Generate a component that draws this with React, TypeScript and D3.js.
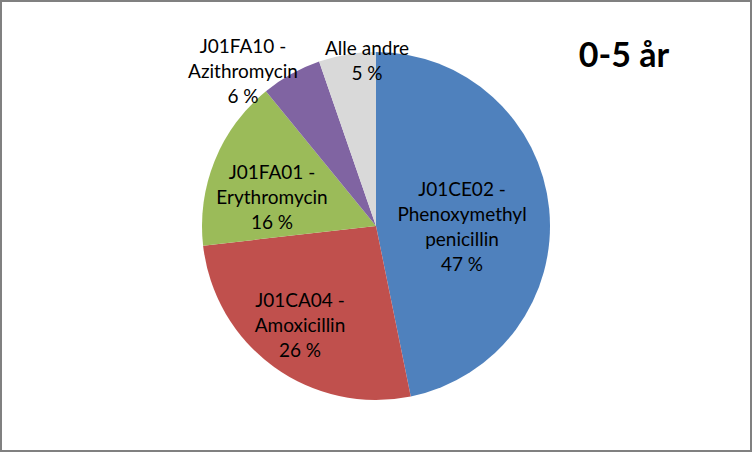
import React from "react";
import * as d3 from "d3";

const categories = [
  "J01CE02 - Phenoxymethyl penicillin",
  "J01CA04 - Amoxicillin",
  "J01FA01 - Erythromycin",
  "J01FA10 - Azithromycin",
  "Alle andre",
];
const values = [46.8, 26.4, 15.9, 5.6, 5.3];
const labelLines = [
  ["J01CE02 -", "Phenoxymethyl", "penicillin"],
  ["J01CA04 -", "Amoxicillin"],
  ["J01FA01 -", "Erythromycin"],
  ["J01FA10 -", "Azithromycin"],
  ["Alle andre"],
];
const title = "0-5 år";

const colors = ["#4F81BD", "#C0504D", "#9BBB59", "#8064A2", "#D9D9D9"];
// label centre offsets relative to pie centre (layout)
const labelOffsets: [number, number][] = [
  [86, 0],
  [-76, 98],
  [-104, -30],
  [-133, -156],
  [-9, -166],
];

const W = 752;
const H = 452;
const cx = 376;
const cy = 226;
const R = 174;
const FONT = "Lato, 'Noto Sans', sans-serif";
const FS = 19;
const LH = 25;

export default function App() {
  const total = d3.sum(values);
  const pie = d3.pie<number>().sort(null).value((d) => d)(values);
  const arc = d3.arc<d3.PieArcDatum<number>>().innerRadius(0).outerRadius(R);
  return (
    <svg
      width={W}
      height={H}
      style={{ position: "absolute", left: 0, top: 0, display: "block" }}
    >
      <rect x={0} y={0} width={W} height={H} fill="#fff" />
      <rect x={1} y={1} width={W - 2} height={H - 2} fill="none" stroke="#808080" strokeWidth={2} />
      <g transform={`translate(${cx},${cy})`}>
        {pie.map((p, i) => (
          <path key={categories[i]} d={arc(p) || ""} fill={colors[i]} />
        ))}
        {pie.map((p, i) => {
          const lines = [...labelLines[i], `${Math.round((values[i] / total) * 100)} %`];
          const [ox, oy] = labelOffsets[i];
          const y0 = oy - ((lines.length - 1) * LH) / 2;
          return (
            <text
              key={"l" + i}
              textAnchor="middle"
              fontFamily={FONT}
              fontSize={FS}
              fill="#000"
            >
              {lines.map((t, j) => (
                <tspan key={j} x={ox} y={y0 + j * LH} dominantBaseline="central">
                  {t}
                </tspan>
              ))}
            </text>
          );
        })}
      </g>
      <text x={624} y={53} textAnchor="middle" dominantBaseline="central" fontFamily={FONT} fontWeight="bold" fontSize={34} fill="#000">
        {title}
      </text>
    </svg>
  );
}
